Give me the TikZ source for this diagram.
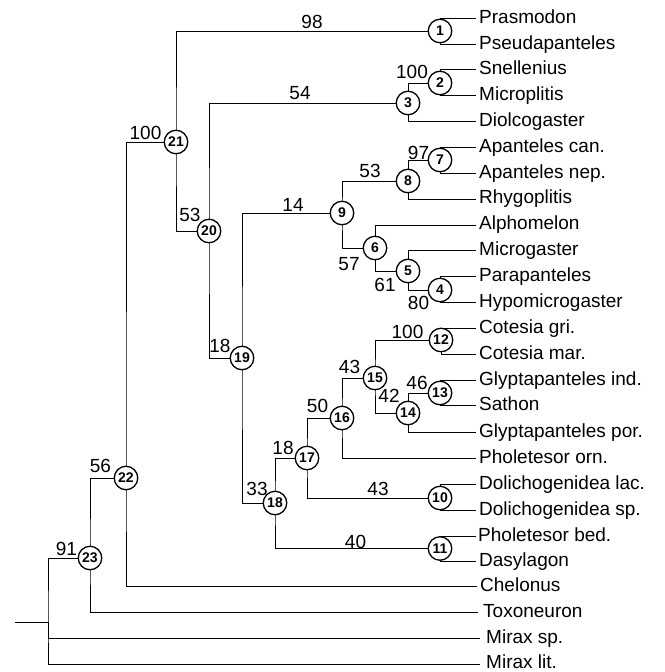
\documentclass[tikz,border=0pt]{standalone}
\usepackage{fontspec}
\setmainfont{Liberation Sans}
\usetikzlibrary{backgrounds}
\begin{document}
\begin{tikzpicture}[x=1pt,y=-1pt,
  br/.style={line width=1.4pt},
  nd/.style={circle,draw,line width=1.3pt,fill=white,minimum size=23.5pt,inner sep=0pt,font=\bfseries\fontsize{14}{14}\selectfont},
  supp/.style={anchor=base,inner sep=0pt,font=\fontsize{19}{19}\selectfont},
  lf/.style={anchor=base west,inner sep=0pt,font=\fontsize{19}{19}\selectfont}
]
\useasboundingbox (0,0) rectangle (664,672);
% leaf line ends
\coordinate (e0) at (476,18);
\coordinate (e1) at (476,44);
\coordinate (e2) at (476,69.5);
\coordinate (e3) at (476,95.5);
\coordinate (e4) at (476,121.4);
\coordinate (e5) at (476,147.2);
\coordinate (e6) at (476,173);
\coordinate (e7) at (476,198.9);
\coordinate (e8) at (476,224.7);
\coordinate (e9) at (476,250.6);
\coordinate (e10) at (476,276.4);
\coordinate (e11) at (476,302.2);
\coordinate (e12) at (476,328.5);
\coordinate (e13) at (476,354);
\coordinate (e14) at (476,380);
\coordinate (e15) at (476,405.6);
\coordinate (e16) at (476,432);
\coordinate (e17) at (476,458);
\coordinate (e18) at (476,484);
\coordinate (e19) at (476,510);
\coordinate (e20) at (476,536);
\coordinate (e21) at (476,561);
\coordinate (e22) at (477,586.5);
\coordinate (e23) at (478,612.5);
\coordinate (e24) at (480,638.5);
\coordinate (e25) at (480,664.5);
% leaf labels
\node[lf] (t0) at (479,23) {Prasmodon};
\node[lf] (t1) at (479,49) {Pseudapanteles};
\node[lf] (t2) at (479,74.5) {Snellenius};
\node[lf] (t3) at (479,100.5) {Microplitis};
\node[lf] (t4) at (479,126.4) {Diolcogaster};
\node[lf] (t5) at (479,152.2) {Apanteles can.};
\node[lf] (t6) at (479,178) {Apanteles nep.};
\node[lf] (t7) at (479,203.9) {Rhygoplitis};
\node[lf] (t8) at (479,229.7) {Alphomelon};
\node[lf] (t9) at (479,255.6) {Microgaster};
\node[lf] (t10) at (479,281.4) {Parapanteles};
\node[lf] (t11) at (479,307.2) {Hypomicrogaster};
\node[lf] (t12) at (479,333.5) {Cotesia gri.};
\node[lf] (t13) at (479,359) {Cotesia mar.};
\node[lf] (t14) at (479,385) {Glyptapanteles ind.};
\node[lf] (t15) at (479,410.6) {Sathon};
\node[lf] (t16) at (479,437) {Glyptapanteles por.};
\node[lf] (t17) at (479,463) {Pholetesor orn.};
\node[lf] (t18) at (479,489) {Dolichogenidea lac.};
\node[lf] (t19) at (479,515) {Dolichogenidea sp.};
\node[lf] (t20) at (478,541) {Pholetesor bed.};
\node[lf] (t21) at (479,566) {Dasylagon};
\node[lf] (t22) at (480,591.5) {Chelonus};
\node[lf] (t23) at (483,617.5) {Toxoneuron};
\node[lf] (t24) at (486,643) {Mirax sp.};
\node[lf] (t25) at (486,668) {Mirax lit.};
% internal nodes
\node[nd] (n1) at (440,31) {1};
\node[nd] (n2) at (440,83) {2};
\node[nd] (n3) at (408,103) {3};
\node[nd] (n4) at (440,290) {4};
\node[nd] (n5) at (408,271) {5};
\node[nd] (n6) at (375,248) {6};
\node[nd] (n7) at (440,160) {7};
\node[nd] (n8) at (408,181) {8};
\node[nd] (n9) at (342,213) {9};
\node[nd] (n10) at (440,498) {10};
\node[nd] (n11) at (440,548.5) {11};
\node[nd] (n12) at (441,340) {12};
\node[nd] (n13) at (440,393) {13};
\node[nd] (n14) at (408,413) {14};
\node[nd] (n15) at (375,378) {15};
\node[nd] (n16) at (342,418) {16};
\node[nd] (n17) at (307,458) {17};
\node[nd] (n18) at (275,503) {18};
\node[nd] (n19) at (242,358) {19};
\node[nd] (n20) at (209,231) {20};
\node[nd] (n21) at (176,142) {21};
\node[nd] (n22) at (126,478) {22};
\node[nd] (n23) at (90,558) {23};
\coordinate (r) at (48,622);
\coordinate (s) at (15,622);
% support values
\node[supp] (b98) at (312,28) {98};
\node[supp] (b54) at (300,99) {54};
\node[supp] (b100a) at (145.5,139) {100};
\node[supp] (b53a) at (190,221) {53};
\node[supp] (b14) at (293,211) {14};
\node[supp] (b100b) at (412,78.5) {100};
\node[supp] (b97) at (418.5,159.5) {97};
\node[supp] (b53b) at (370,177.5) {53};
\node[supp] (b57) at (349,270) {57};
\node[supp] (b61) at (385,291) {61};
\node[supp] (b80) at (418.5,309.5) {80};
\node[supp] (b100c) at (407.5,338) {100};
\node[supp] (b43a) at (349.5,373.5) {43};
\node[supp] (b46) at (417,389) {46};
\node[supp] (b42) at (389,402.5) {42};
\node[supp] (b43b) at (378,495.5) {43};
\node[supp] (b40) at (355.5,548) {40};
\node[supp] (b18a) at (220,352.5) {18};
\node[supp] (b50) at (317.5,412) {50};
\node[supp] (b18b) at (283,454) {18};
\node[supp] (b33) at (257,495.5) {33};
\node[supp] (b56) at (100.5,472.5) {56};
\node[supp] (b91) at (66.5,555.5) {91};
% branches
\begin{scope}[on background layer,br]
\draw (e0) -| (n1.center) |- (e1);
\draw (e2) -| (n2.center) |- (e3);
\draw (n2.center) -| (n3.center) |- (e4);
\draw (e5) -| (n7.center) |- (e6);
\draw (n7.center) -| (n8.center) |- (e7);
\draw (e10) -| (n4.center) |- (e11);
\draw (e9) -| (n5.center) |- (n4.center);
\draw (e8) -| (n6.center) |- (n5.center);
\draw (n8.center) -| (n9.center) |- (n6.center);
\draw (e12) -| (n12.center) |- (e13);
\draw (e14) -| (n13.center) |- (e15);
\draw (n13.center) -| (n14.center) |- (e16);
\draw (n12.center) -| (n15.center) |- (n14.center);
\draw (n15.center) -| (n16.center) |- (e17);
\draw (e18) -| (n10.center) |- (e19);
\draw (n16.center) -| (n17.center) |- (n10.center);
\draw (e20) -| (n11.center) |- (e21);
\draw (n17.center) -| (n18.center) |- (n11.center);
\draw (n9.center) -| (n19.center) |- (n18.center);
\draw (n3.center) -| (n20.center) |- (n19.center);
\draw (n1.center) -| (n21.center) |- (n20.center);
\draw (n21.center) -| (n22.center) |- (e22);
\draw (n22.center) -| (n23.center) |- (e23);
\draw (n23.center) -| (r) |- (e25);
\draw (e24) -| (r);
\draw (s) -- (r);
\end{scope}
\end{tikzpicture}
\end{document}
